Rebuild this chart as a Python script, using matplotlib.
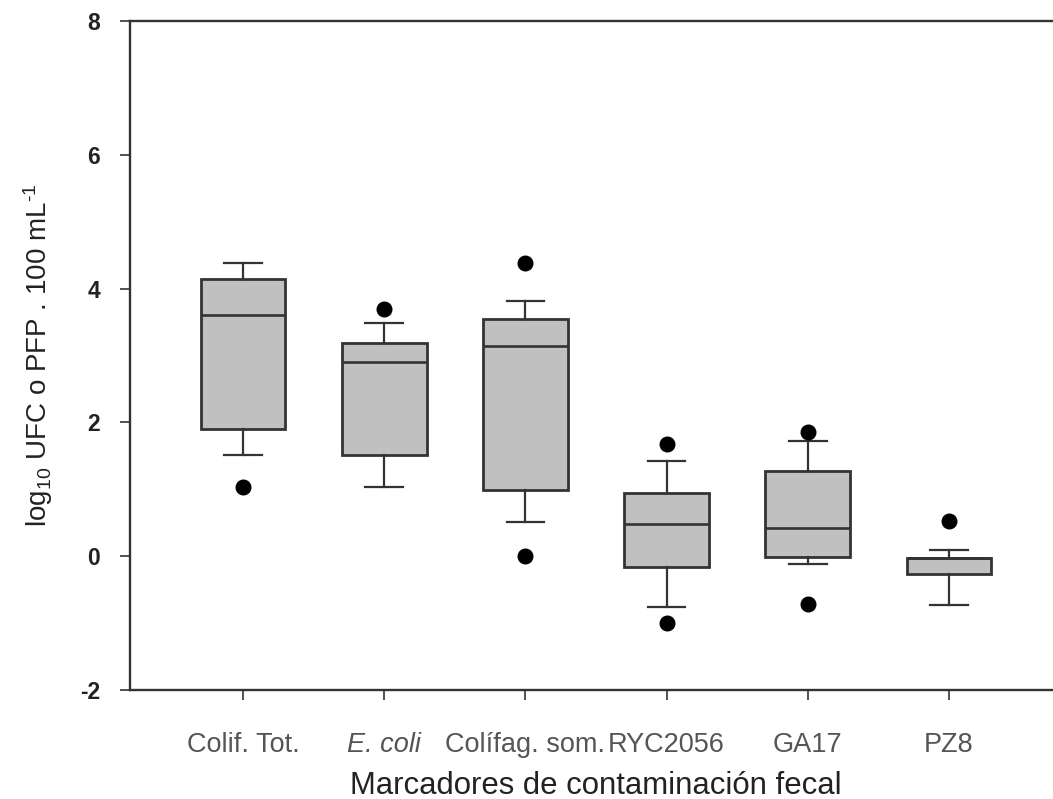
#!/usr/bin/env python3
"""Boxplots of fecal contamination markers (log10 UFC/PFP per 100 mL)."""
import matplotlib
matplotlib.use("Agg")
import matplotlib.pyplot as plt

plt.rcParams["font.family"] = ["Liberation Sans", "DejaVu Sans"]
plt.rcParams["mathtext.fontset"] = "custom"
plt.rcParams["mathtext.rm"] = "Liberation Sans"
plt.rcParams["mathtext.it"] = "Liberation Sans:italic"
plt.rcParams["axes.unicode_minus"] = False

# values
labels = ["Colif. Tot.", "E. coli", "Colífag. som.", "RYC2056", "GA17", "PZ8"]
whislo = [1.51, 1.04, 0.51, -0.76, -0.11, -0.73]
q1 = [1.90, 1.51, 0.99, -0.16, -0.01, -0.26]
med = [3.61, 2.90, 3.14, 0.48, 0.42, -0.02]
q3 = [4.14, 3.19, 3.54, 0.95, 1.28, -0.02]
whishi = [4.38, 3.49, 3.81, 1.42, 1.72, 0.10]
fliers = [[1.03], [3.70], [4.39, 0.0], [1.67, -1.0], [1.86, -0.72], [0.53]]

stats = [
    {"label": lab, "whislo": lo, "q1": a, "med": m, "q3": b, "whishi": hi, "fliers": fl}
    for lab, lo, a, m, b, hi, fl in zip(labels, whislo, q1, med, q3, whishi, fliers)
]

fig = plt.figure(figsize=(10.53, 7.99), dpi=100)
ax = fig.add_axes([0.1235, 0.1364, 0.885, 0.8373])

ax.bxp(
    stats,
    positions=range(1, len(stats) + 1),
    widths=0.6,
    capwidths=0.265,
    patch_artist=True,
    boxprops=dict(facecolor="#c0c0c0", edgecolor="#333333", linewidth=2.0),
    medianprops=dict(color="#333333", linewidth=1.9),
    whiskerprops=dict(color="#333333", linewidth=1.6),
    capprops=dict(color="#333333", linewidth=1.6),
    flierprops=dict(marker="o", markerfacecolor="black", markeredgecolor="black",
                    markersize=10.5, linestyle="none"),
)

ax.set_xlim(0.2, 6.8)
ax.set_ylim(-2, 8)
ax.set_yticks([-2, 0, 2, 4, 6, 8])

for side in ["left", "bottom", "top"]:
    ax.spines[side].set_color("#333333")
    ax.spines[side].set_linewidth(1.7)
ax.spines["right"].set_visible(False)

ax.tick_params(axis="both", direction="out", length=7.5, width=1.2, color="#333333")
ax.tick_params(axis="x", labelsize=19.5, labelcolor="#555555", pad=23)
ax.tick_params(axis="y", labelsize=16.5, labelcolor="#222222", pad=14)
for t in ax.get_yticklabels():
    t.set_fontweight("bold")
ax.get_xticklabels()[1].set_style("italic")

ax.set_xlabel("Marcadores de contaminación fecal", fontsize=22.4, color="#222222", labelpad=9)
ax.set_ylabel(r"log$_{10}$ UFC o PFP . 100 mL$^{\text{-1}}$", fontsize=20, color="#222222", labelpad=18)

fig.savefig("out.png", dpi=100)
